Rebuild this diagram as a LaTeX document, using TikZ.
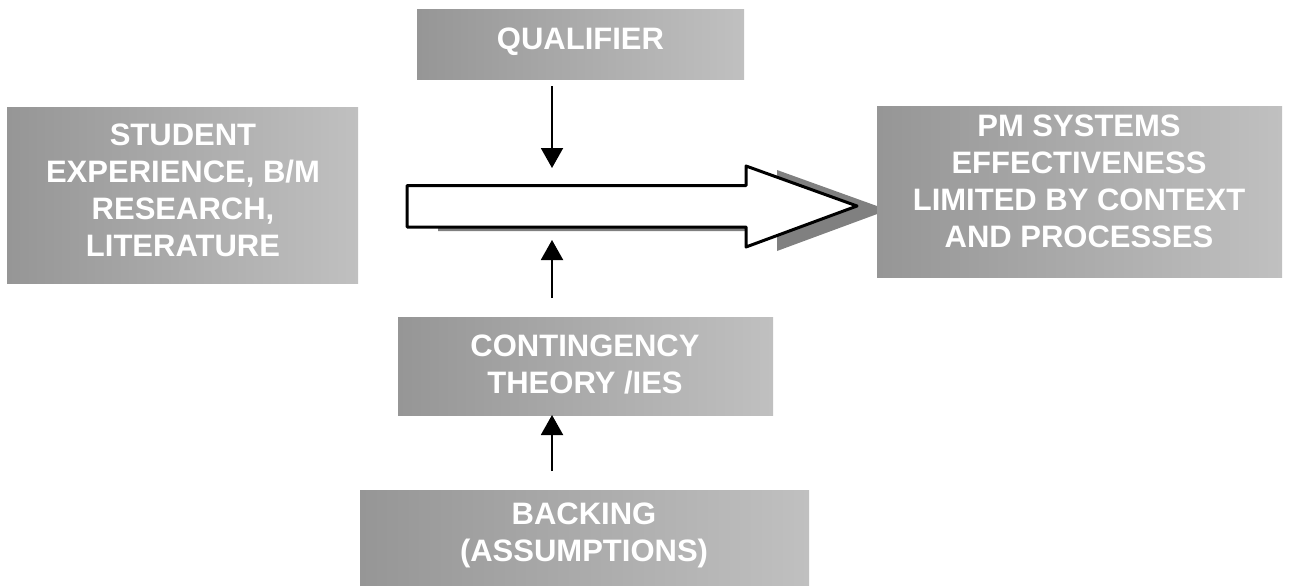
\documentclass[tikz,border=0pt]{standalone}
\usepackage{fontspec}
\setmainfont{Liberation Sans}
\usetikzlibrary{arrows.meta}
\definecolor{boxdark}{RGB}{150,150,150}
\definecolor{boxlight}{RGB}{192,192,192}
\definecolor{shadowgray}{RGB}{128,128,128}
\begin{document}
\begin{tikzpicture}[x=1pt,y=-1pt,
  box/.style={rectangle, draw=none, inner sep=0pt, anchor=north west,
    left color=boxdark, right color=boxlight},
  lbl/.style={anchor=north, inner sep=0pt, text=white, align=center,
    font=\fontsize{31}{37}\selectfont\bfseries},
  conn/.style={line width=2pt, -{Triangle[length=20pt,width=22pt]}},
  bigarrow/.style={line width=3pt, line join=round},
]
\useasboundingbox (0,0) rectangle (1290,586);

% shadow of the main inference arrow
\path[bigarrow, fill=shadowgray, shift={(31,4)}]
  (407,185.5) -- (746,185.5) -- (746,166) -- (857,206) -- (746,247)
  -- (746,227) -- (407,227) -- cycle;

% boxes
\node[box, minimum width=327pt, minimum height=70pt]  (qual)    at (417,9)   {};
\node[box, minimum width=351pt, minimum height=176pt] (data)    at (7,107)   {};
\node[box, minimum width=405pt, minimum height=171pt] (claim)   at (877,106) {};
\node[box, minimum width=375pt, minimum height=98pt]  (warrant) at (398,317) {};
\node[box, minimum width=449pt, minimum height=96pt]  (backing) at (360,490) {};

% main inference arrow from data to claim
\draw[bigarrow, fill=white]
  (407,185.5) -- (746,185.5) -- (746,166) -- (857,206) -- (746,247)
  -- (746,227) -- (407,227) -- cycle;

% labels
\node[lbl] (qualtxt)    at (580.5,27.5) {QUALIFIER};
\node[lbl] (datatxt)    at (183,123.5)  {STUDENT\\EXPERIENCE, B/M\\RESEARCH,\\LITERATURE};
\node[lbl] (claimtxt)   at (1079,114.5) {PM SYSTEMS\\EFFECTIVENESS\\LIMITED BY CONTEXT\\AND PROCESSES};
\node[lbl] (warranttxt) at (585,334.5)  {CONTINGENCY\\THEORY /IES};
\node[lbl] (backingtxt) at (584,502.5)  {BACKING\\(ASSUMPTIONS)};

% connector end points
\coordinate (qualfoot)  at (552,86);
\coordinate (shafttop)  at (552,168);
\coordinate (shaftbot)  at (552,240);
\coordinate (warrhead)  at (552,298);
\coordinate (backhead)  at (552,471);
\coordinate (warrfoot)  at (552,415);

\draw[conn] (qualfoot) -- (shafttop);
\draw[conn] (warrhead) -- (shaftbot);
\draw[conn] (backhead) -- (warrfoot);
\end{tikzpicture}
\end{document}
